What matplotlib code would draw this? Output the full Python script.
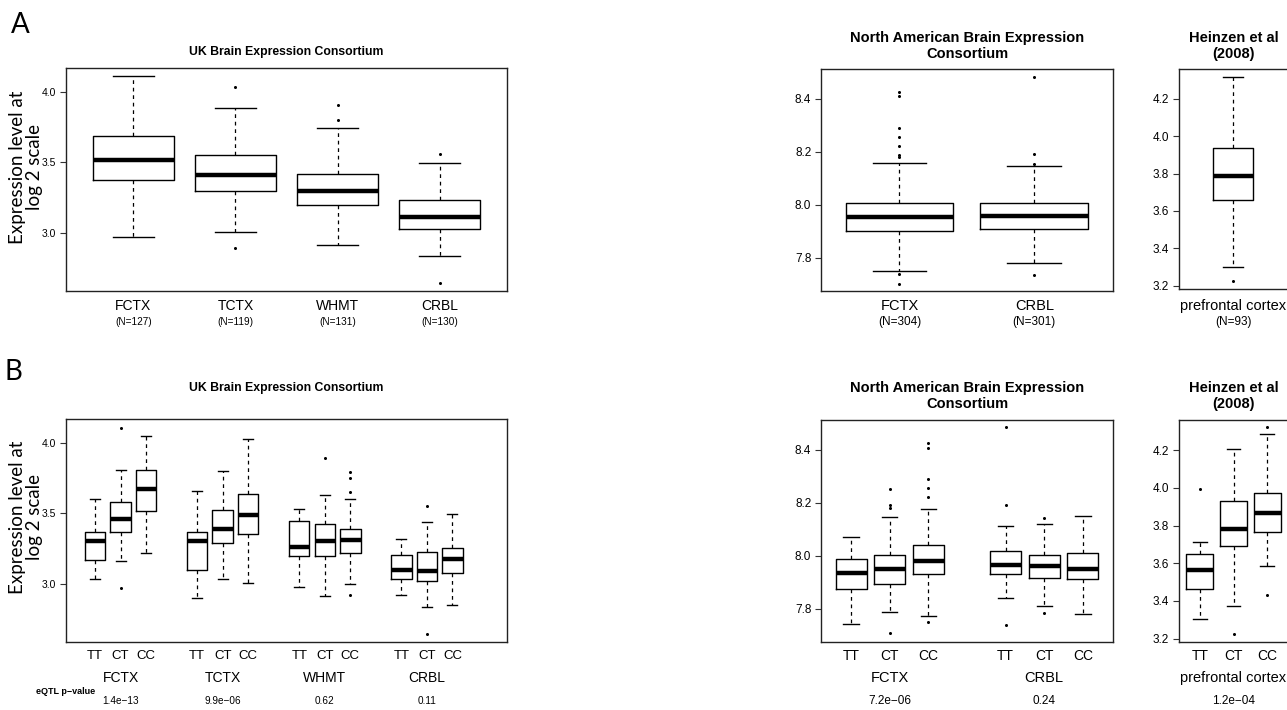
import matplotlib
matplotlib.use("Agg")
import matplotlib.pyplot as plt
import matplotlib.transforms as mtransforms

# canvas in pixels
W, H = 1287, 710

# --- data: panel A (per tissue) ---
uk_tissues = ["FCTX", "TCTX", "WHMT", "CRBL"]
uk_counts = ["(N=127)", "(N=119)", "(N=131)", "(N=130)"]
uk_a_hi = [4.108, 3.887, 3.744, 3.499]
uk_a_q3 = [3.689, 3.551, 3.421, 3.235]
uk_a_med = [3.518, 3.412, 3.299, 3.118]
uk_a_q1 = [3.376, 3.299, 3.202, 3.033]
uk_a_lo = [2.976, 3.012, 2.915, 2.842]
uk_a_out = [[], [4.031, 2.899], [3.904, 3.800], [3.558, 2.652]]

na_tissues = ["FCTX", "CRBL"]
na_counts = ["(N=304)", "(N=301)"]
na_a_hi = [8.158, 8.147]
na_a_q3 = [8.005, 8.005]
na_a_med = [7.955, 7.957]
na_a_q1 = [7.902, 7.909]
na_a_lo = [7.751, 7.779]
na_a_out = [[8.426, 8.410, 8.289, 8.257, 8.221, 8.187, 8.180, 7.738, 7.703],
            [8.482, 8.191, 8.152, 7.735]]

hz_tissues = ["prefrontal cortex"]
hz_counts = ["(N=93)"]
hz_a_hi = [4.319]
hz_a_q3 = [3.938]
hz_a_med = [3.788]
hz_a_q1 = [3.660]
hz_a_lo = [3.301]
hz_a_out = [[3.225]]

# --- data: panel B (per genotype TT, CT, CC within each tissue) ---
genotypes = ["TT", "CT", "CC"]
uk_pvals = ["1.4e\u221213", "9.9e\u221206", "0.62", "0.11"]
uk_b_hi = [3.605, 3.809, 4.045, 3.659, 3.802, 4.026,
           3.534, 3.631, 3.605, 3.320, 3.440, 3.496]
uk_b_q3 = [3.372, 3.584, 3.809, 3.372, 3.527, 3.635,
           3.445, 3.424, 3.388, 3.205, 3.228, 3.256]
uk_b_med = [3.304, 3.461, 3.671, 3.308, 3.388, 3.492,
            3.266, 3.304, 3.313, 3.101, 3.096, 3.176]
uk_b_q1 = [3.169, 3.372, 3.515, 3.101, 3.294, 3.355,
           3.198, 3.202, 3.219, 3.035, 3.021, 3.080]
uk_b_lo = [3.040, 3.165, 3.219, 2.901, 3.040, 3.012,
           2.984, 2.918, 3.000, 2.927, 2.842, 2.852]
uk_b_out = [[], [4.106, 2.976], [], [], [], [],
            [], [3.892], [3.793, 3.753, 3.654, 2.927], [], [3.551, 2.649], []]

na_pvals = ["7.2e\u221206", "0.24"]
na_b_hi = [8.072, 8.145, 8.175, 8.111, 8.121, 8.150]
na_b_q3 = [7.988, 8.002, 8.039, 8.017, 8.002, 8.011]
na_b_med = [7.934, 7.949, 7.981, 7.966, 7.961, 7.951]
na_b_q1 = [7.874, 7.895, 7.932, 7.932, 7.917, 7.912]
na_b_lo = [7.742, 7.787, 7.772, 7.841, 7.809, 7.779]
na_b_out = [[], [8.252, 8.190, 8.179, 7.708],
            [8.425, 8.408, 8.291, 8.254, 8.222, 7.752],
            [8.486, 8.193, 7.738], [8.144, 7.786], []]

hz_pvals = ["1.2e\u221204"]
hz_b_hi = [3.715, 4.205, 4.288]
hz_b_q3 = [3.651, 3.929, 3.972]
hz_b_med = [3.563, 3.782, 3.865]
hz_b_q1 = [3.465, 3.694, 3.766]
hz_b_lo = [3.306, 3.372, 3.586]
hz_b_out = [[3.993], [3.227], [4.322, 3.434]]

NARROW = ["Liberation Sans Narrow", "Liberation Sans", "DejaVu Sans"]
ARIAL = ["Liberation Sans", "DejaVu Sans"]
SOFT = ["Lato", "Open Sans", "DejaVu Sans"]


def fy(y):
    # pixel row -> figure fraction
    return 1 - y / H


def make_axes(fig, left, top, right, bottom):
    return fig.add_axes([left / W, 1 - bottom / H, (right - left) / W, (bottom - top) / H])


def draw_boxes(ax, positions, lo, q1, med, q3, hi, out, width):
    stats = []
    for i in range(len(positions)):
        stats.append({"whislo": lo[i], "q1": q1[i], "med": med[i], "q3": q3[i],
                      "whishi": hi[i], "fliers": out[i]})
    ax.bxp(stats, positions=positions, widths=width, capwidths=width * 0.5,
           showfliers=True, patch_artist=False,
           boxprops=dict(color="black", linewidth=1.0),
           medianprops=dict(color="black", linewidth=3.2, solid_capstyle="butt"),
           whiskerprops=dict(color="black", linewidth=0.9, linestyle=(0, (3, 3))),
           capprops=dict(color="black", linewidth=1.0),
           flierprops=dict(marker="o", markersize=2.2, markerfacecolor="black",
                           markeredgecolor="black", markeredgewidth=0))


def style_axes(ax, xlim, ylim, yticks, font, size):
    ax.set_xlim(*xlim)
    ax.set_ylim(*ylim)
    ax.set_xticks([])
    ax.set_yticks(yticks)
    ax.set_yticklabels([f"{t:.1f}" for t in yticks], family=font, fontsize=size)
    ax.tick_params(axis="y", length=4, width=0.8, pad=3, color="#333333")
    for sp in ax.spines.values():
        sp.set_linewidth(1.0)
        sp.set_color("#222222")


def label_row(fig, ax, xs, texts, y, font, size, weight="normal"):
    trans = mtransforms.blended_transform_factory(ax.transData, fig.transFigure)
    for x, t in zip(xs, texts):
        ax.text(x, fy(y), t, transform=trans, ha="center", va="center",
                family=font, fontsize=size, fontweight=weight, clip_on=False)


def title_at(fig, ax, text, y, font, size):
    # two-line titles are centred on the pixel row y
    trans = mtransforms.blended_transform_factory(ax.transAxes, fig.transFigure)
    ax.text(0.5, fy(y), text, transform=trans, ha="center", va="center",
            family=font, fontsize=size, fontweight="bold", linespacing=1.2,
            multialignment="center", clip_on=False)


fig = plt.figure(figsize=(W / 100, H / 100), dpi=100)

uk_ylim = (2.593, 4.167)
na_ylim = (7.675, 8.512)
hz_ylim = (3.182, 4.360)
uk_yt = [3.0, 3.5, 4.0]
na_yt = [7.8, 8.0, 8.2, 8.4]
hz_yt = [3.2, 3.4, 3.6, 3.8, 4.0, 4.2]

# ---------------- panel A ----------------
ax = make_axes(fig, 66, 68, 507, 291)
pos = [1, 2, 3, 4]
draw_boxes(ax, pos, uk_a_lo, uk_a_q1, uk_a_med, uk_a_q3, uk_a_hi, uk_a_out, 0.8)
style_axes(ax, (0.34, 4.66), uk_ylim, uk_yt, NARROW, 7.5)
title_at(fig, ax, "UK Brain Expression Consortium", 52, NARROW, 8.8)
label_row(fig, ax, pos, uk_tissues, 306, NARROW, 10)
label_row(fig, ax, pos, uk_counts, 322, NARROW, 7.2)

ax = make_axes(fig, 821, 69, 1113, 291)
pos = [1, 2]
draw_boxes(ax, pos, na_a_lo, na_a_q1, na_a_med, na_a_q3, na_a_hi, na_a_out, 0.8)
style_axes(ax, (0.418, 2.583), na_ylim, na_yt, ARIAL, 8.5)
title_at(fig, ax, "North American Brain Expression\nConsortium", 46, ARIAL, 10.5)
label_row(fig, ax, pos, na_tissues, 306, ARIAL, 10.5)
label_row(fig, ax, pos, na_counts, 322, ARIAL, 8.5)

ax = make_axes(fig, 1179, 69, 1288, 289)
pos = [1]
draw_boxes(ax, pos, hz_a_lo, hz_a_q1, hz_a_med, hz_a_q3, hz_a_hi, hz_a_out, 0.4)
style_axes(ax, (0.46, 1.55), hz_ylim, hz_yt, ARIAL, 8.5)
title_at(fig, ax, "Heinzen et al\n(2008)", 46, ARIAL, 10.5)
label_row(fig, ax, pos, hz_tissues, 306, ARIAL, 10.5)
label_row(fig, ax, pos, hz_counts, 322, ARIAL, 8.5)

# ---------------- panel B ----------------
ax = make_axes(fig, 66, 419, 507, 642)
pos = [1, 2, 3, 5, 6, 7, 9, 10, 11, 13, 14, 15]
draw_boxes(ax, pos, uk_b_lo, uk_b_q1, uk_b_med, uk_b_q3, uk_b_hi, uk_b_out, 0.8)
style_axes(ax, (-0.14, 17.14), uk_ylim, uk_yt, NARROW, 7.5)
title_at(fig, ax, "UK Brain Expression Consortium", 388, NARROW, 8.8)
label_row(fig, ax, pos, genotypes * 4, 656, NARROW, 9.5)
label_row(fig, ax, [2, 6, 10, 14], uk_tissues, 678, NARROW, 10)
label_row(fig, ax, [2, 6, 10, 14], uk_pvals, 701, NARROW, 7.2)
fig.text(66 / W, fy(692), "eQTL p\u2212value", family=NARROW, fontweight="bold",
         fontsize=6.5, ha="center", va="center")

ax = make_axes(fig, 821, 420, 1113, 642)
pos = [1, 2, 3, 5, 6, 7]
draw_boxes(ax, pos, na_b_lo, na_b_q1, na_b_med, na_b_q3, na_b_hi, na_b_out, 0.8)
style_axes(ax, (0.22, 7.78), na_ylim, na_yt, ARIAL, 8.5)
title_at(fig, ax, "North American Brain Expression\nConsortium", 396, ARIAL, 10.5)
label_row(fig, ax, pos, genotypes * 2, 656, ARIAL, 10)
label_row(fig, ax, [2, 6], na_tissues, 678, ARIAL, 10.5)
label_row(fig, ax, [2, 6], na_pvals, 701, ARIAL, 8.5)

ax = make_axes(fig, 1179, 420, 1288, 642)
pos = [1, 2, 3]
draw_boxes(ax, pos, hz_b_lo, hz_b_q1, hz_b_med, hz_b_q3, hz_b_hi, hz_b_out, 0.8)
style_axes(ax, (0.38, 3.62), hz_ylim, hz_yt, ARIAL, 8.5)
title_at(fig, ax, "Heinzen et al\n(2008)", 396, ARIAL, 10.5)
label_row(fig, ax, pos, genotypes, 656, ARIAL, 10)
label_row(fig, ax, [2], hz_tissues, 678, ARIAL, 10.5)
label_row(fig, ax, [2], hz_pvals, 701, ARIAL, 8.5)

# panel letters and y labels
fig.text(20 / W, fy(25), "A", family=SOFT, fontsize=20, ha="center", va="center")
fig.text(13 / W, fy(372), "B", family=SOFT, fontsize=20, ha="center", va="center")
for yc in (167, 517):
    fig.text(26 / W, fy(yc), "Expression level at\nlog 2 scale", family=SOFT,
             fontsize=13.5, rotation=90, ha="center", va="center",
             multialignment="center", linespacing=1.0)

fig.savefig("out.png", dpi=100)
